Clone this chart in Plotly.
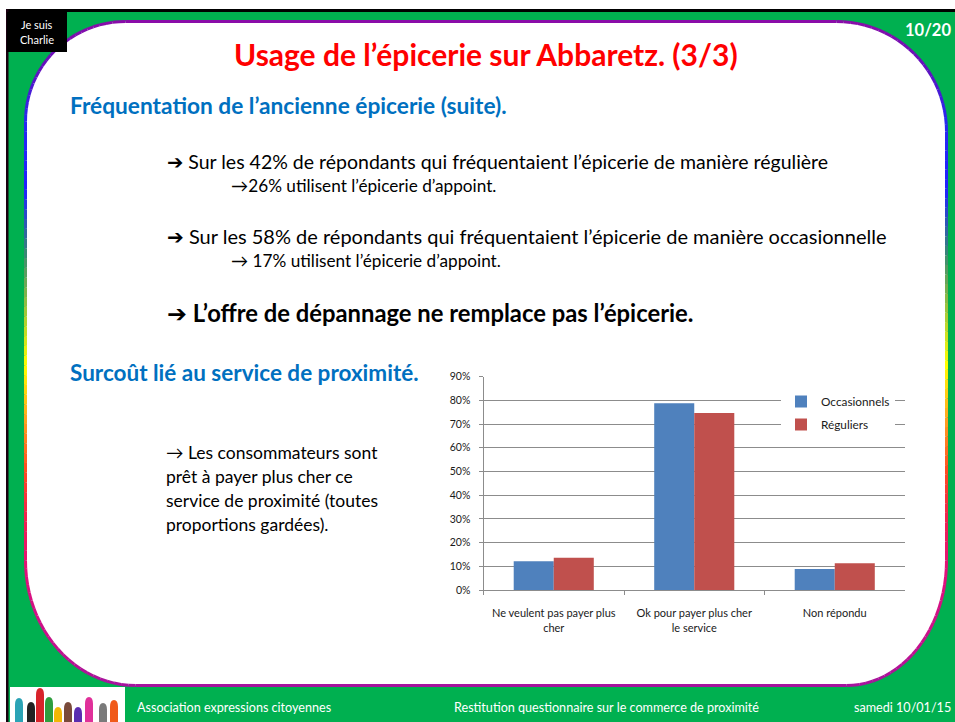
import math
import plotly.graph_objects as go

# ---------------- data ----------------
categories = ["Ne veulent pas payer plus<br>cher", "Ok pour payer plus cher<br>le service", "Non répondu"]
occasionnels = [0.121, 0.788, 0.089]
reguliers = [0.136, 0.747, 0.113]
series_names = ["Occasionnels", "Réguliers"]
y_ticks = [0, 0.1, 0.2, 0.3, 0.4, 0.5, 0.6, 0.7, 0.8, 0.9]

W, H = 955, 722
FONT = "Lato, 'Open Sans', 'DejaVu Sans', sans-serif"
GREEN = "#00B050"
BLUE_T = "#0070C0"


def fx(x):
    return x / W


def fy(y):
    return 1 - y / H


fig = go.Figure()
fig.add_trace(go.Bar(x=categories, y=occasionnels, name=series_names[0],
                     marker=dict(color="#4F81BD", line=dict(width=0)), showlegend=False))
fig.add_trace(go.Bar(x=categories, y=reguliers, name=series_names[1],
                     marker=dict(color="#C0504D", line=dict(width=0)), showlegend=False))
# legend entries (square markers)
fig.add_trace(go.Scatter(x=[None], y=[None], mode="markers", name=series_names[0], legendgroup="a",
                         marker=dict(symbol="square", size=8, color="#4F81BD")))
fig.add_trace(go.Scatter(x=[None], y=[None], mode="markers", name=series_names[1], legendgroup="b",
                         marker=dict(symbol="square", size=8, color="#C0504D")))

shapes = []

# white strip at top + black border
shapes.append(dict(type="rect", xref="paper", yref="paper", x0=0, x1=1, y0=fy(0), y1=fy(10),
                   fillcolor="white", line=dict(width=0), layer="below"))
shapes.append(dict(type="rect", xref="paper", yref="paper", x0=0, x1=fx(6), y0=fy(0), y1=fy(H),
                   fillcolor="white", line=dict(width=0), layer="below"))
shapes.append(dict(type="rect", xref="paper", yref="paper", x0=fx(6), x1=1, y0=fy(9), y1=fy(12),
                   fillcolor="black", line=dict(width=0), layer="below"))
shapes.append(dict(type="rect", xref="paper", yref="paper", x0=fx(6), x1=fx(8.5), y0=fy(9), y1=fy(H),
                   fillcolor="#1a0010", line=dict(width=0), layer="below"))

# rounded white panel
L, R, T, B = 25.5, 946.5, 21.5, 685.5
r_tl = (100, 100)
r_tr = (110, 110)
r_bl = (110, 125)
r_br = (100, 125)


def arc_pts(cx, cy, rx, ry, a0, a1, n=24):
    pts = []
    for i in range(n + 1):
        a = math.radians(a0 + (a1 - a0) * i / n)
        pts.append((cx + rx * math.cos(a), cy + ry * math.sin(a)))
    return pts


outline = []
outline += [(L + r_tl[0], T), (R - r_tr[0], T)]
outline += arc_pts(R - r_tr[0], T + r_tr[1], r_tr[0], r_tr[1], -90, 0)[1:]
n_side = 45
y_a, y_b = T + r_tr[1], B - r_br[1]
outline += [(R, y_a + (y_b - y_a) * i / n_side) for i in range(1, n_side + 1)]
outline += arc_pts(R - r_br[0], B - r_br[1], r_br[0], r_br[1], 0, 90)[1:]
outline += [(L + r_bl[0], B)]
outline += arc_pts(L + r_bl[0], B - r_bl[1], r_bl[0], r_bl[1], 90, 180)[1:]
y_a, y_b = B - r_bl[1], T + r_tl[1]
outline += [(L, y_a + (y_b - y_a) * i / n_side) for i in range(1, n_side + 1)]
outline += arc_pts(L + r_tl[0], T + r_tl[1], r_tl[0], r_tl[1], 180, 270)[1:]

path = "M " + " L ".join(f"{fx(x):.5f},{fy(y):.5f}" for x, y in outline) + " Z"
shapes.append(dict(type="path", xref="paper", yref="paper", path=path, fillcolor="white",
                   line=dict(width=0), layer="below"))

stops = [(21, "#8A0CA8"), (70, "#6010C0"), (120, "#2828F0"), (190, "#2020FF"), (255, "#3A8A70"),
         (320, "#B0D030"), (365, "#FFFF00"), (420, "#FFA020"), (470, "#FF4A20"), (520, "#F02050"),
         (570, "#E0107A"), (640, "#C8108C"), (686, "#A6129E")]


def hex2rgb(h):
    return tuple(int(h[i:i + 2], 16) for i in (1, 3, 5))


def grad(y):
    if y <= stops[0][0]:
        return stops[0][1]
    for (y0, c0), (y1, c1) in zip(stops, stops[1:]):
        if y0 <= y <= y1:
            t = (y - y0) / (y1 - y0)
            a, b = hex2rgb(c0), hex2rgb(c1)
            return "rgb(%d,%d,%d)" % tuple(round(a[k] + (b[k] - a[k]) * t) for k in range(3))
    return stops[-1][1]


pts = outline + [outline[0]]
for (x0, y0), (x1, y1) in zip(pts, pts[1:]):
    shapes.append(dict(type="line", xref="paper", yref="paper", x0=fx(x0), y0=fy(y0), x1=fx(x1), y1=fy(y1),
                       line=dict(color=grad((y0 + y1) / 2), width=3), layer="below"))

# "Je suis Charlie" box
shapes.append(dict(type="rect", xref="paper", yref="paper", x0=fx(7), x1=fx(67), y0=fy(12), y1=fy(52),
                   fillcolor="black", line=dict(width=0), layer="below"))

# footer logo
shapes.append(dict(type="rect", xref="paper", yref="paper", x0=fx(10), x1=fx(125), y0=fy(687), y1=fy(722),
                   fillcolor="white", line=dict(width=0), layer="below"))
hands = [(19, 700, "#2BA3B5"), (31, 704, "#222222"), (40, 690, "#D8232A"), (49, 699, "#2E9E3E"),
         (58, 709, "#F2B705"), (68, 704, "#7A4A3A"), (78, 709, "#5A2DB0"), (89, 699, "#E0309A"),
         (103, 705, "#7A7A7A"), (114, 702, "#F05A1A")]
for hx, hy, hc in hands:
    shapes.append(dict(type="path", xref="paper", yref="paper", layer="below", fillcolor=hc, line=dict(width=0),
                       path=f"M {fx(hx-4):.5f},{fy(722):.5f} L {fx(hx-4):.5f},{fy(hy+5):.5f} "
                            f"Q {fx(hx-4):.5f},{fy(hy-2):.5f} {fx(hx):.5f},{fy(hy-2):.5f} "
                            f"Q {fx(hx+4):.5f},{fy(hy-2):.5f} {fx(hx+4):.5f},{fy(hy+5):.5f} "
                            f"L {fx(hx+4):.5f},{fy(722):.5f} Z"))

ann = []


def text(x, y, s, size, color="black", bold=False, anchor="left", family=FONT):
    if bold:
        s = "<b>" + s + "</b>"
    ann.append(dict(x=fx(x), y=fy(y), xref="paper", yref="paper", text=s, showarrow=False,
                    xanchor=anchor, yanchor="middle", align=anchor,
                    font=dict(size=size, color=color, family=family)))


text(37, 24, "Je suis", 11, "white", anchor="center")
text(37, 39, "Charlie", 11, "white", anchor="center")
text(953, 30, "10/20", 16.5, "white", bold=True, anchor="right")
text(486, 54, "Usage de l’épicerie sur Abbaretz. (3/3)", 30, "#FF0000", bold=True, anchor="center")
text(68, 105, "Fréquentation de l’ancienne épicerie (suite).", 22.7, BLUE_T, bold=True)
text(165, 162, "➔ Sur les 42% de répondants qui fréquentaient l’épicerie de manière régulière", 19.5)
text(229, 185, "→26% utilisent l’épicerie d’appoint.", 17.2)
text(165, 236, "➔ Sur les 58% de répondants qui fréquentaient l’épicerie de manière occasionnelle", 20)
text(229, 260, "→ 17% utilisent l’épicerie d’appoint.", 17.2)
text(165, 313, "➔ L’offre de dépannage ne remplace pas l’épicerie.", 23.8, bold=True)
text(68, 372, "Surcoût lié au service de proximité.", 22.5, BLUE_T, bold=True)
for i, line in enumerate(["→ Les consommateurs sont", "prêt à payer plus cher ce",
                          "service de proximité (toutes", "proportions gardées)."]):
    text(164, 452 + 24 * i, line, 17.5)
text(135, 707, "Association expressions citoyennes", 12.6, "white")
text(452, 707, "Restitution questionnaire sur le commerce de proximité", 12.6, "white")
text(953, 707, "samedi 10/01/15", 12.6, "white", anchor="right")

axis_font = dict(size=11, color="#1a1a1a", family=FONT)
fig.update_layout(
    width=W, height=H,
    margin=dict(l=0, r=0, t=0, b=0, autoexpand=False),
    paper_bgcolor=GREEN,
    plot_bgcolor="rgba(0,0,0,0)",
    barmode="group", bargap=0.43, bargroupgap=0,
    shapes=shapes, annotations=ann,
    font=dict(family=FONT),
    xaxis=dict(domain=[fx(483.5), fx(905)], type="category", showgrid=False, showline=True,
               linecolor="#8C8C8C", linewidth=1, ticks="outside", tickson="boundaries", ticklen=4,
               tickcolor="#8C8C8C", tickfont=axis_font, ticklabelstandoff=13, fixedrange=True),
    yaxis=dict(domain=[fy(590), fy(376.7)], range=[0, 0.9], tickvals=y_ticks, tickformat=".0%",
               showgrid=True, gridcolor="#8C8C8C", gridwidth=1, showline=True, linecolor="#8C8C8C",
               ticks="outside", ticklen=4, tickcolor="#8C8C8C", tickfont=dict(size=10.5, color="#1a1a1a", family=FONT),
               zeroline=False, ticklabelstandoff=6, fixedrange=True),
    legend=dict(x=fx(781), y=fy(387), xanchor="left", yanchor="top", bgcolor="white",
                font=dict(size=11.8, color="#1a1a1a", family=FONT), tracegroupgap=4,
                itemsizing="constant"),
    showlegend=True,
)

fig.write_html("out.html", config={"displayModeBar": False},
               post_script="document.body.style.margin='0px';")
